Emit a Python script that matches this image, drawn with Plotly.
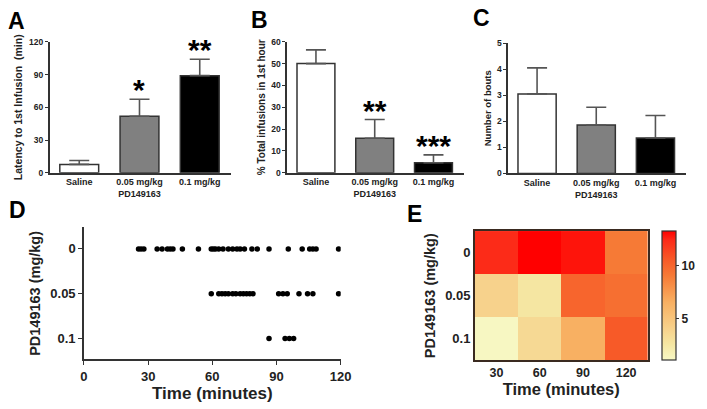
import plotly.graph_objects as go

# ---------------- data ----------------
groups = ["Saline", "0.05 mg/kg<br>PD149163", "0.1 mg/kg"]
bar_colors = ["#ffffff", "#808080", "#000000"]

latency_mean = [7.7, 51.8, 89.0]
latency_sem = [3.6, 15.5, 15.0]

pct_first_hour_mean = [50.0, 15.8, 4.6]
pct_first_hour_sem = [6.3, 8.6, 3.6]

bouts_mean = [3.05, 1.86, 1.36]
bouts_sem = [1.0, 0.68, 0.86]

sig_A = ["", "*", "**"]
sig_B = ["", "**", "***"]

dose_labels = ["0", "0.05", "0.1"]
saline_times = [25.5, 26.7, 28.0, 34.2, 36.5, 39.0, 40.3, 41.6, 46.0, 53.5,
                59.5, 60.5, 61.5, 63.0, 65.0, 67.5, 69.5, 71.5, 73.0, 75.0,
                78.5, 81.0, 86.5, 95.5, 102.0, 105.5, 107.0, 108.5, 119.0]
low_dose_times = [59.5, 63.0, 64.5, 66.0, 67.5, 69.5, 71.0, 73.0, 74.5, 76.0,
                  77.5, 79.0, 91.0, 93.0, 95.0, 100.5, 104.5, 107.0, 119.0]
high_dose_times = [86.5, 94.0, 96.0, 98.0]

heat_time = [30, 60, 90, 120]
heat_z = [
    [12.3, 13.2, 12.8, 9.0],
    [4.0, 2.6, 10.0, 9.5],
    [1.2, 3.5, 6.5, 10.5],
]

# ---------------- layout helpers ----------------
W, H = 707, 409
FONT = "Liberation Sans, Arial, sans-serif"
AX = "#333333"


def fx(px):
    return px / W


def fy(py):
    return 1 - py / H


fig = go.Figure()

bar_panels = [
    ("x", "y", latency_mean, latency_sem, [0, 120], [0, 30, 60, 90, 120],
     "Latency to 1st Infusion  (min)", (46.7, 232), (37.7, 172), 10.5, sig_A),
    ("x2", "y2", pct_first_hour_mean, pct_first_hour_sem, [0, 60],
     [0, 10, 20, 30, 40, 50, 60], "% Total infusions in 1st hour",
     (289.3, 470), (37.7, 172), 10, sig_B),
    ("x3", "y3", bouts_mean, bouts_sem, [0, 5], [0, 1, 2, 3, 4, 5],
     "Number of bouts", (515, 697), (39, 172.7), 9.5, ["", "", ""]),
]

xpos = [0, 1, 2]
for i, (xa, ya, mean, sem, yr, yt, ytitle, xd, yd, tsize, sig) in enumerate(bar_panels):
    fig.add_trace(go.Bar(
        x=xpos, y=mean, xaxis=xa, yaxis=ya, width=0.645,
        marker=dict(color=bar_colors, line=dict(color=AX, width=1.5)),
        error_y=dict(type="data", array=sem, arrayminus=[0, 0, 0],
                     symmetric=False, color="#555555", thickness=1.6, width=10),
        showlegend=False,
    ))
    sfx = "" if i == 0 else str(i + 1)
    fig.layout["xaxis" + sfx] = dict(
        domain=[fx(xd[0]), fx(xd[1])], anchor=ya, range=[-0.49, 2.52],
        tickvals=xpos, ticktext=groups, ticks="", showline=True,
        linecolor=AX, linewidth=1.5, showgrid=False, zeroline=False,
        tickfont=dict(family=FONT, size=9, color="#222", weight="bold"),
        fixedrange=True,
    )
    fig.layout["yaxis" + sfx] = dict(
        domain=[fy(yd[1]), fy(yd[0])], anchor=xa, range=yr, tickvals=yt,
        ticks="outside", ticklen=3, tickwidth=1.2, tickcolor=AX,
        showline=True, linecolor=AX, linewidth=1.5, showgrid=False,
        zeroline=False,
        tickfont=dict(family=FONT, size=8.5, color="#222", weight="bold"),
        title=dict(text=ytitle, standoff=4,
                   font=dict(family=FONT, size=tsize, color="#222", weight="bold")),
    )
    for k in range(3):
        if sig[k]:
            fig.add_annotation(
                x=xpos[k], y=mean[k] + sem[k], xref=xa, yref=ya,
                text=sig[k], showarrow=False, yanchor="bottom", yshift=-9,
                font=dict(family=FONT, size=30, color="#000", weight="bold"),
            )

# ---------------- panel D: raster ----------------
for row, times in enumerate([saline_times, low_dose_times, high_dose_times]):
    fig.add_trace(go.Scatter(
        x=times, y=[row] * len(times), mode="markers", xaxis="x4", yaxis="y4",
        marker=dict(color="#000", size=5.5), showlegend=False,
    ))

fig.layout["xaxis4"] = dict(
    domain=[fx(81.7), fx(344)], anchor="y4", range=[0, 120],
    tickvals=[0, 30, 60, 90, 120], ticks="outside", ticklen=4, tickwidth=1.2,
    tickcolor=AX, showline=True, linecolor=AX, linewidth=1.5, showgrid=False,
    zeroline=False,
    tickfont=dict(family=FONT, size=13, color="#222", weight="bold"),
    title=dict(text="Time (minutes)", standoff=2,
               font=dict(family=FONT, size=17, color="#222", weight="bold")),
)
fig.layout["yaxis4"] = dict(
    domain=[fy(363.3), fy(228)], anchor="x4", range=[2.47, -0.48],
    tickvals=[0, 1, 2], ticktext=dose_labels, ticks="outside", ticklen=4,
    tickwidth=1.2, tickcolor=AX, showline=True, linecolor=AX, linewidth=1.5,
    showgrid=False, zeroline=False,
    tickfont=dict(family=FONT, size=13, color="#222", weight="bold"),
    title=dict(text="PD149163 (mg/kg)", standoff=6,
               font=dict(family=FONT, size=14.5, color="#222", weight="bold")),
)

# ---------------- panel E: heatmap ----------------
heat_scale = [
    [0.0, "#f7f8c4"], [0.124, "#f5e6a2"], [0.24, "#f7d28c"],
    [0.446, "#f8b062"], [0.653, "#f67a36"], [0.777, "#f75a28"],
    [0.93, "#fc2a18"], [1.0, "#ff0000"],
]
fig.add_trace(go.Heatmap(
    x=heat_time, y=[0, 1, 2], z=heat_z, xaxis="x5", yaxis="y5",
    colorscale=heat_scale, zmin=1.1, zmax=13.2, showscale=True,
    colorbar=dict(
        x=fx(672.7), xanchor="left", y=fy(364.3), yanchor="bottom",
        len=(364.3 - 231.7) / H, lenmode="fraction", thickness=14,
        thicknessmode="pixels", tickvals=[5, 10], ticks="outside", ticklen=3,
        tickcolor=AX, outlinecolor=AX, outlinewidth=1.2, xpad=0, ypad=0,
        tickfont=dict(family=FONT, size=12, color="#222", weight="bold"),
    ),
))
fig.layout["xaxis5"] = dict(
    domain=[fx(481), fx(657.7)], anchor="y5", range=[15, 135],
    tickvals=heat_time, ticks="", showline=True, mirror=True,
    linecolor="#3a2a20", linewidth=1.5, showgrid=False, zeroline=False,
    tickfont=dict(family=FONT, size=12.5, color="#222", weight="bold"),
    title=dict(text="Time (minutes)", standoff=4,
               font=dict(family=FONT, size=16.5, color="#222", weight="bold")),
)
fig.layout["yaxis5"] = dict(
    domain=[fy(364.3), fy(231.7)], anchor="x5", range=[2.5, -0.5],
    tickvals=[0, 1, 2], ticktext=dose_labels, ticks="", showline=True,
    mirror=True, linecolor="#3a2a20", linewidth=1.5, showgrid=False,
    zeroline=False,
    tickfont=dict(family=FONT, size=13, color="#222", weight="bold"),
    title=dict(text="PD149163 (mg/kg)", standoff=6,
               font=dict(family=FONT, size=14.5, color="#222", weight="bold")),
)

# ---------------- panel letters ----------------
for letter, px, py in [("A", 2, 16.5), ("B", 250, 15.5), ("C", 477, 13),
                       ("D", 3, 210), ("E", 410, 214)]:
    fig.add_annotation(
        x=fx(px), y=fy(py), xref="paper", yref="paper", text=letter,
        showarrow=False, xanchor="left", yanchor="middle",
        font=dict(family=FONT, size=23, color="#000", weight="bold"),
    )

fig.update_layout(
    width=W, height=H, margin=dict(l=0, r=0, t=0, b=0),
    paper_bgcolor="white", plot_bgcolor="white", bargap=0.3,
    font=dict(family=FONT, color="#222"),
)

fig.write_html(
    "out.html",
    config={"displayModeBar": False},
    post_script="document.body.style.margin='0';document.body.style.padding='0';",
)
